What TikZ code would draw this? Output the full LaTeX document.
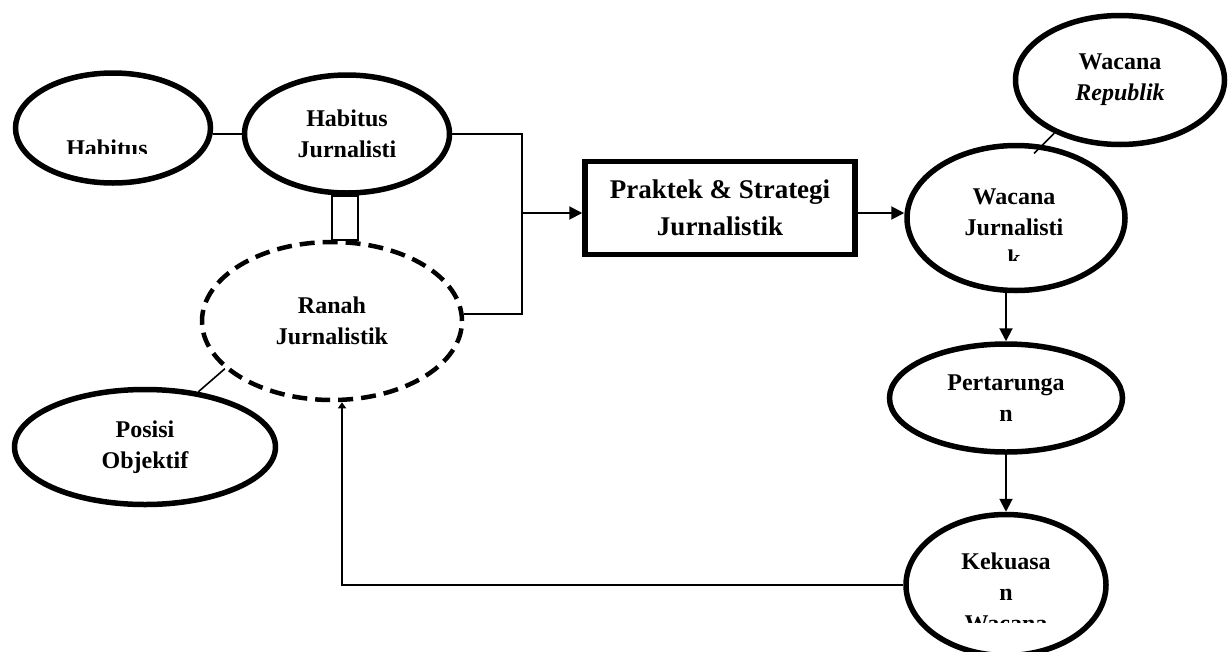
\documentclass[tikz,border=0pt]{standalone}
\usepackage{fontspec}
\setmainfont{Liberation Serif}
\usetikzlibrary{shapes.geometric,arrows.meta}
\tikzset{
	oval/.style={ellipse,draw=black,line width=5.5pt,inner sep=0pt,align=center,font=\fontsize{24}{31}\selectfont\bfseries},
	dashoval/.style={oval,line width=4.5pt,dash pattern=on 15pt off 8pt},
	txt/.style={inner sep=0pt,align=center,font=\fontsize{24}{31}\selectfont\bfseries},
	kotak/.style={rectangle,draw=black,line width=5.5pt,align=center,font=\fontsize{27}{37}\selectfont\bfseries},
	link/.style={line width=1.6pt},
	arr/.style={line width=2pt,-{Triangle[length=13pt,width=13pt]}},
}
\begin{document}
\begin{tikzpicture}[x=1pt,y=-1pt]
	\useasboundingbox (0,0) rectangle (1232,651);
	\node[oval,minimum width=195pt,minimum height=110pt] (habitus) at (113,128) {};
	\node[oval,minimum width=205pt,minimum height=118pt] (habjur) at (347,134) {Habitus\\Jurnalisti};
	\node[dashoval,minimum width=260pt,minimum height=158pt] (ranah) at (332,321) {Ranah\\Jurnalistik};
	\node[oval,minimum width=261pt,minimum height=115pt] (posisi) at (145,447) {Posisi\\Objektif};
	\node[kotak,minimum width=270pt,minimum height=93pt] (praktek) at (720,208) {Praktek \& Strategi\\Jurnalistik};
	\node[oval,minimum width=218pt,minimum height=145pt] (wjur) at (1016,218) {};
	\node[oval,minimum width=209pt,minimum height=129pt] (wrep) at (1120,80) {Wacana\\\textit{Republik}};
	\node[oval,minimum width=233pt,minimum height=108pt] (pert) at (1006,398) {Pertarunga\\n};
	\node[oval,minimum width=200pt,minimum height=141pt] (kek) at (1006,585) {};

	\begin{scope}
		\clip (0,60) rectangle (230,153);
		\node[txt] (habitus-t) at (107,148) {Habitus};
	\end{scope}
	\begin{scope}
		\clip (900,140) rectangle (1130,260);
		\node[txt] (wjur-t) at (1014,228) {Wacana\\Jurnalisti\\k};
	\end{scope}
	\begin{scope}
		\clip (900,510) rectangle (1110,622);
		\node[txt] (kek-t) at (1006,592) {Kekuasa\\n\\Wacana};
	\end{scope}

	\coordinate (join) at (522,213);
	\draw[link] (habjur.west) -- (habjur.west -| habitus.east);
	\draw[link] ([xshift=-15pt]habjur.south) rectangle ([xshift=11pt]habjur.south |- ranah.north);
	\draw[link] (habjur.east) -| (join);
	\draw[link] (ranah.3) -| (join);
	\draw[arr] (join) -- (join -| praktek.west);
	\draw[arr] (join -| praktek.east) -- (join -| wjur.west);
	\draw[link,shorten <=-12pt] (wjur.70) -- (wrep.219);
	\draw[link] (posisi.46) -- (ranah.204);
	\draw[arr] (wjur.south -| pert.north) -- (pert.north);
	\draw[arr] (pert.south) -- (kek.north);
	\draw[line width=2pt,-{Triangle[length=6pt,width=8pt]}] (kek.west) -| ([xshift=10pt]ranah.south);
\end{tikzpicture}
\end{document}
